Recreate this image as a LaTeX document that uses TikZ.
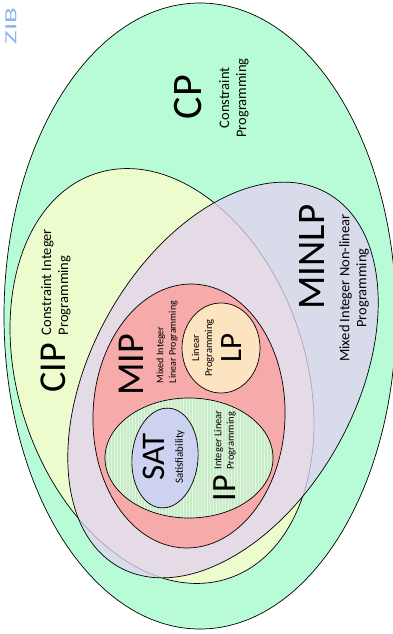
\documentclass[tikz,border=0pt]{standalone}
\usepackage{fontspec}
\setmainfont{Carlito}
\usetikzlibrary{shapes.geometric,patterns}

\definecolor{cpgreen}{RGB}{183,251,215}
\definecolor{cipyellow}{RGB}{236,252,204}
\definecolor{minlpfill}{RGB}{226,210,240}
\definecolor{mippink}{RGB}{246,170,170}
\definecolor{lppeach}{RGB}{252,228,192}
\definecolor{ipgreen}{RGB}{200,236,200}
\definecolor{satblue}{RGB}{204,210,240}
\definecolor{zibblue}{RGB}{140,180,238}

\tikzset{
  setbox/.style={draw=black,line width=0.7pt,ellipse,inner sep=0pt},
  settext/.style={rotate=90,anchor=center,inner sep=0pt,text=black}
}

\begin{document}
\begin{tikzpicture}[x=1pt,y=-1pt]
\useasboundingbox (0,0) rectangle (392,634);

\node [settext,text=zibblue,font=\fontsize{17}{20}\selectfont] (zib) at (11,26) {\scalebox{1.7}[1]{ZIB}};

%%%%%%%%%%%%%%%%%%%%%%%%%%%%
\node [setbox,fill=cpgreen,minimum width=392pt,minimum height=626pt] (cp) at (200,316) {};
\node [settext,font=\fontsize{42}{48}\selectfont] (cp-1) at (188,97) {CP};
\node [settext,align=center,font=\fontsize{14.5}{17}\selectfont] (cp-2) at (234,98) {Constraint\\Programming};

%%%%%%%%%%%%%%%%%%%%%%%%%%%%
\node [setbox,fill=cipyellow,minimum width=288pt,minimum height=426pt,rotate=18] (cip) at (162,376) {};
\node [settext,font=\fontsize{38}{44}\selectfont] (cip-1) at (53,368) {CIP};
\node [settext,align=left,font=\fontsize{14.5}{17}\selectfont] (cip-2) at (56,282) {Constraint Integer\\Programming};

%%%%%%%%%%%%%%%%%%%%%%%%%%%%
\node [setbox,fill=minlpfill,fill opacity=0.77,minimum width=264pt,minimum height=428pt,rotate=-29] (minlp) at (223,380) {};
\node [settext,font=\fontsize{39}{44}\selectfont] (minlp-1) at (312,257) {MINLP};
\node [settext,align=center,font=\fontsize{14.5}{17}\selectfont] (minlp-2) at (354,288) {Mixed Integer Non-linear\\Programming};

%%%%%%%%%%%%%%%%%%%%%%%%%%%%
\node [setbox,fill=mippink,minimum width=192pt,minimum height=264pt,rotate=-2] (mip) at (189,416) {};
\node [settext,font=\fontsize{38}{44}\selectfont] (mip-1) at (131,365) {MIP};
\node [settext,align=left,font=\fontsize{10}{12.5}\selectfont] (mip-2) at (167,342) {Mixed Integer\\Linear Programming};

%%%%%%%%%%%%%%%%%%%%%%%%%%%%
\node [setbox,fill=lppeach,minimum width=78pt,minimum height=90pt] (lp) at (221,348) {};
\node [settext,font=\fontsize{31}{36}\selectfont] (lp-1) at (232,348) {LP};
\node [settext,align=center,font=\fontsize{10.5}{13}\selectfont] (lp-2) at (203,348) {Linear\\Programming};

%%%%%%%%%%%%%%%%%%%%%%%%%%%%
\node [setbox,preaction={fill=ipgreen},pattern=vertical lines,pattern color=white!45!ipgreen,minimum width=168pt,minimum height=120pt] (ip) at (189,458) {};
\node [settext,font=\fontsize{34}{40}\selectfont] (ip-1) at (225,488) {IP};
\node [settext,align=left,font=\fontsize{10.5}{12.5}\selectfont] (ip-2) at (225,440) {Integer Linear\\Programming};

%%%%%%%%%%%%%%%%%%%%%%%%%%%%
\node [setbox,fill=satblue,minimum width=66pt,minimum height=100pt,rotate=-5] (sat) at (165,458) {};
\node [settext,font=\fontsize{33}{38}\selectfont] (sat-1) at (154,457) {SAT};
\node [settext,font=\fontsize{11}{13}\selectfont] (sat-2) at (180,457) {Satisfiability};

\end{tikzpicture}
\end{document}
